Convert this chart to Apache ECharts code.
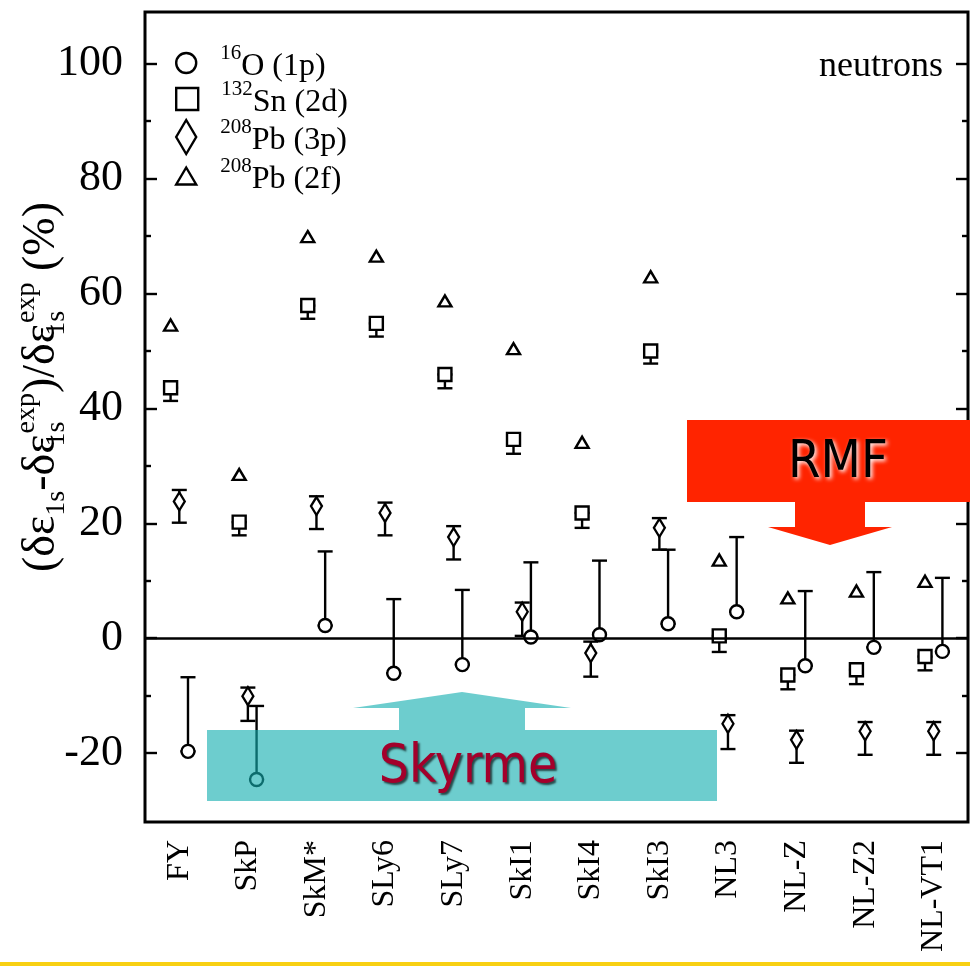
<!DOCTYPE html>
<html>
<head>
<meta charset="utf-8">
<script src="https://cdn.jsdelivr.net/npm/echarts@6/dist/echarts.min.js"></script>
<style>
  html, body { margin: 0; padding: 0; background: #fff; }
  #chart { width: 970px; height: 966px; }
</style>
</head>
<body>
<div id="chart"></div>
<script>
// Energy-functional models along the x axis
const models = ['FY', 'SkP', 'SkM*', 'SLy6', 'SLy7', 'SkI1', 'SkI4', 'SkI3', 'NL3', 'NL-Z', 'NL-Z2', 'NL-VT1'];

// Relative deviation of the 1s splitting (%), per state
// 16O (1p): point and upper end of its bar
const o16Value = [-19.7, -24.6, 2.2, -6.1, -4.6, 0.2, 0.6, 2.5, 4.6, -4.8, -1.6, -2.3];
const o16Upper = [-6.8, -11.8, 15.1, 6.8, 8.4, 13.2, 13.5, 15.4, 17.6, 8.2, 11.5, 10.5];

// 132Sn (2d): point and lower end of its bar
const sn132Value = [43.6, 20.2, 57.9, 54.8, 45.9, 34.6, 21.8, 50.0, 0.4, -6.4, -5.5, -3.2];
const sn132Lower = [41.3, 17.9, 55.6, 52.5, 43.5, 32.1, 19.2, 47.8, -2.4, -8.9, -8.0, -5.6];

// 208Pb (3p): point with lower and upper bar ends
const pb3pValue = [23.8, -10.1, 23.0, 21.8, 17.6, 4.6, -2.6, 19.2, -14.9, -17.7, -16.2, -16.2];
const pb3pUpper = [25.8, -8.6, 24.7, 23.6, 19.5, 6.2, -0.6, 20.9, -13.4, -16.1, -14.6, -14.6];
const pb3pLower = [20.1, -14.4, 19.0, 17.9, 13.7, 0.4, -6.7, 15.4, -19.3, -21.7, -20.3, -20.3];

// 208Pb (2f): point only
const pb2fValue = [54.5, 28.5, 69.9, 66.5, 58.7, 50.4, 34.1, 62.9, 13.6, 7.0, 8.2, 9.9];

// Axis tick values
const yMajorTicks = [-20, 0, 20, 40, 60, 80, 100];
const yMinorTicks = [-10, 10, 30, 50, 70, 90];

// Legend entries: mass number (superscript) and the rest of the label
const legendMass = ['16', '132', '208', '208'];
const legendRest = ['O (1p)', 'Sn (2d)', 'Pb (3p)', 'Pb (2f)'];
const seriesNames = legendMass.map((m, k) => m + legendRest[k]);

const SERIF = '"Liberation Serif", "Times New Roman", Times, serif';
const SANS_C = '"DejaVu Sans Condensed", "DejaVu Sans", sans-serif';
const INK = '#000';
const LW = 2.4;          // stroke width for markers and bars
const SHIFT = 8.7;       // horizontal pixel shift of markers within a model slot
const CAP = 15;          // error-bar cap width in px

const chart = echarts.init(document.getElementById('chart'), null, { renderer: 'canvas', width: 970, height: 966 });

function barSeries(name, lower, upper, dx, extra) {
  return Object.assign({
    type: 'custom',
    name: name,
    silent: true,
    z: 3,
    encode: { x: 0, y: [1, 2] },
    data: models.map((m, i) => [i, lower[i], upper[i]]),
    renderItem: function (params, api) {
      const x = api.coord([api.value(0), 0])[0] + dx;
      const yLo = api.coord([api.value(0), api.value(1)])[1];
      const yHi = api.coord([api.value(0), api.value(2)])[1];
      const h = CAP / 2;
      const st = { stroke: INK, lineWidth: LW };
      return {
        type: 'group',
        children: [
          { type: 'line', shape: { x1: x, y1: yLo, x2: x, y2: yHi }, style: st },
          { type: 'line', shape: { x1: x - h, y1: yLo, x2: x + h, y2: yLo }, style: st },
          { type: 'line', shape: { x1: x - h, y1: yHi, x2: x + h, y2: yHi }, style: st }
        ]
      };
    }
  }, extra || {});
}

function markerSeries(name, values, symbol, size, dx) {
  return {
    type: 'scatter',
    name: name,
    silent: true,
    z: 4,
    symbol: symbol,
    symbolSize: size,
    symbolOffset: [dx, 0],
    itemStyle: { color: '#fff', borderColor: INK, borderWidth: LW, opacity: 1 },
    emphasis: { disabled: true },
    data: values.map((v, i) => [i, v])
  };
}

function yAxisDef(position, ticks, len, withLabels) {
  return {
    type: 'value',
    min: -32,
    max: 109,
    position: position,
    axisLine: { show: false },
    splitLine: { show: false },
    axisTick: { show: true, inside: true, length: len, customValues: ticks, lineStyle: { color: INK, width: LW } },
    axisLabel: withLabels
      ? { show: true, customValues: ticks, margin: 22, fontFamily: SERIF, fontSize: 44, color: INK }
      : { show: false }
  };
}

const legendIcons = [
  'path://M10,0A10,10,0,1,1,10,20A10,10,0,1,1,10,0Z',
  'path://M0,0L22,0L22,22L0,22Z',
  'path://M10,0L20,17L10,34L0,17Z',
  'path://M10,0L20,17L0,17Z'
];
const legendIconH = [20, 22, 34, 17];
const legendRowY = [63, 99, 137, 176];

const option = {
  animation: false,
  backgroundColor: '#fff',
  title: {
    text: 'neutrons',
    right: 27,
    top: 47,
    padding: 0,
    textStyle: { fontFamily: SERIF, fontSize: 36, fontWeight: 'normal', color: INK, lineHeight: 40 }
  },
  grid: {
    left: 145, right: 2, top: 12, bottom: 144,
    show: true, borderColor: INK, borderWidth: 3, backgroundColor: 'transparent',
    outerBoundsMode: 'none'
  },
  legend: seriesNames.map((n, k) => ({
    data: [{ name: n, icon: legendIcons[k], itemStyle: { color: '#fff', borderColor: INK, borderWidth: LW } }],
    left: 175,
    top: legendRowY[k] - 20,
    padding: 0,
    itemWidth: 58,
    itemHeight: legendIconH[k],
    selectedMode: false,
    formatter: () => '{sup|' + legendMass[k] + '}{main|' + legendRest[k] + '}',
    textStyle: {
      rich: {
        sup: { fontFamily: SERIF, fontSize: 21, lineHeight: 21, verticalAlign: 'top', color: INK },
        main: { fontFamily: SERIF, fontSize: 32, lineHeight: 40, verticalAlign: 'bottom', color: INK }
      }
    }
  })),
  xAxis: {
    type: 'category',
    data: models,
    position: 'bottom',
    axisLine: { show: false },
    axisTick: { show: false },
    splitLine: { show: false },
    axisLabel: { rotate: 90, margin: 18, fontFamily: SERIF, fontSize: 32, color: INK, interval: 0 }
  },
  yAxis: [
    yAxisDef('left', yMajorTicks, 12, true),
    yAxisDef('left', yMinorTicks, 6, false),
    yAxisDef('right', yMajorTicks, 12, false),
    yAxisDef('right', yMinorTicks, 6, false)
  ],
  series: [
    barSeries(seriesNames[0], o16Value, o16Upper, SHIFT, {
      markLine: {
        silent: true,
        symbol: 'none',
        label: { show: false },
        lineStyle: { color: INK, width: 2.6, type: 'solid' },
        data: [{ yAxis: 0 }]
      }
    }),
    barSeries(seriesNames[1], sn132Lower, sn132Value, -SHIFT),
    barSeries(seriesNames[2], pb3pLower, pb3pUpper, 0),
    markerSeries(seriesNames[0], o16Value, 'circle', 13, SHIFT),
    markerSeries(seriesNames[1], sn132Value, 'rect', [13, 13], -SHIFT),
    markerSeries(seriesNames[2], pb3pValue, 'diamond', [11, 18], 0),
    markerSeries(seriesNames[3], pb2fValue, 'triangle', [13, 11], -SHIFT)
  ],
  graphic: [
    {
      type: 'text', x: 42, y: 387, rotation: Math.PI / 2, z: 100, silent: true,
      style: {
        text: '{m|(δε}{sub|1s}{m|-δε}{subs|1s}{sup|exp}{m|)/δε}{subs|1s}{sup|exp}{m| (%)}',
        align: 'center', verticalAlign: 'middle',
        rich: {
          m: { fontFamily: SERIF, fontSize: 46, lineHeight: 58, verticalAlign: 'middle', fill: INK },
          sub: { fontFamily: SERIF, fontSize: 28, lineHeight: 28, verticalAlign: 'bottom', fill: INK },
          subs: { fontFamily: SERIF, fontSize: 28, lineHeight: 28, verticalAlign: 'bottom', width: 1, fill: INK },
          sup: { fontFamily: SERIF, fontSize: 28, lineHeight: 28, verticalAlign: 'top', fill: INK }
        }
      }
    },
    {
      // Skyrme family: box with upward arrow
      type: 'polygon', z: 100, silent: true,
      shape: { points: [[207, 730], [399, 730], [399, 708], [353, 708], [462, 692], [571, 708], [525, 708], [525, 730], [717, 730], [717, 801], [207, 801]] },
      style: { fill: 'rgba(20,175,176,0.62)' }
    },
    {
      type: 'text', x: 468, y: 768, z: 101, silent: true,
      style: {
        text: 'Skyrme', fill: '#a3002b', fontFamily: SANS_C, fontSize: 53,
        align: 'center', verticalAlign: 'middle',
        textShadowColor: 'rgba(0,0,0,0.65)', textShadowBlur: 2, textShadowOffsetX: 2, textShadowOffsetY: 2
      }
    },
    {
      // RMF family: box with downward arrow
      type: 'polygon', z: 100, silent: true,
      shape: { points: [[687, 420], [970, 420], [970, 502], [865, 502], [865, 527], [892, 527], [830, 545], [768, 527], [795, 527], [795, 502], [687, 502]] },
      style: { fill: '#ff2400' }
    },
    {
      type: 'text', x: 838, y: 463, z: 101, silent: true,
      style: {
        text: 'RMF', fill: INK, fontFamily: SANS_C, fontSize: 52,
        align: 'center', verticalAlign: 'middle',
        textShadowColor: '#fff', textShadowBlur: 4, textShadowOffsetX: 2, textShadowOffsetY: 2
      }
    },
    {
      type: 'rect', z: 100, silent: true,
      shape: { x: 0, y: 962, width: 970, height: 4 },
      style: { fill: '#f8d012' }
    }
  ]
};

chart.setOption(option);
</script>
</body>
</html>
